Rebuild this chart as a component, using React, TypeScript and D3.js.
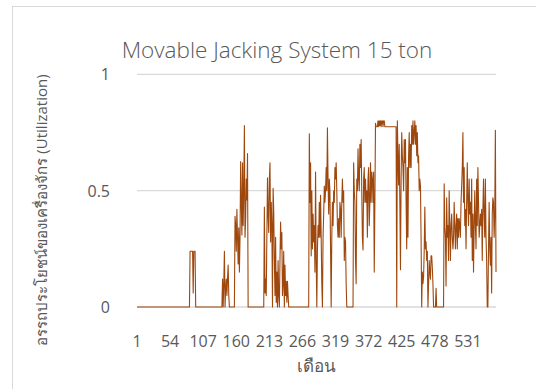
import React from "react";
import * as d3 from "d3";

const title = "Movable Jacking System 15 ton";
const yAxisTitle = "อรรถประโยชน์ของเครื่องจักร (Utilization)";
const xAxisTitle = "เดือน";
const yTicks = [0, 0.5, 1];
const xTickLabels = ["1", "54", "107", "160", "213", "266", "319", "372", "425", "478", "531"];

// Monthly utilization (576 months)
const utilization: number[] = [
  // 1-85
  0,0,0,0,0,0,0,0,0,0,0,0,0,0,0,0,0,0,0,0,
  0,0,0,0,0,0,0,0,0,0,0,0,0,0,0,0,0,0,0,0,
  0,0,0,0,0,0,0,0,0,0,0,0,0,0,0,0,0,0,0,0,
  0,0,0,0,0,0,0,0,0,0,0,0,0,0,0,0,0,0,0,0,
  0,0,0,0,0,
  // 86-94
  0.24,0.24,0.24,0.24,0.24,0.06,0.24,0.24,0.24,
  // 95-137
  0,0,0,0,0,0,0,0,0,0,0,0,0,0,0,0,0,0,0,0,
  0,0,0,0,0,0,0,0,0,0,0,0,0,0,0,0,0,0,0,0,
  0,0,0,
  // 138-179
  0.12,0,0.1,0.24,0,0.08,0.12,0.05,0.12,0.18,0.05,
  0,0,0,0,0,0,0,0,0,
  0.39,0.35,0.24,0.42,0.3,0.185,0.34,0.15,0.3,0.625,0.45,
  0.31,0.62,0.35,0.5,0.78,0.3,0.38,0.55,0.46,0.66,0,
  // 180-204
  0,0,0,0,0,0,0,0,0,0,0,0,0,0,0,0,0,0,0,0,
  0,0,0,0,0,
  // 205-244
  0.43,0.06,0.12,0.05,0.3,0.555,0.4,0.32,0.55,0.62,
  0.28,0.45,0.35,0,0.51,0.41,0.2,0.05,0.3,0.02,
  0.15,0,0.2,0.05,0,0.2,0.365,0.25,0.32,0.05,
  0.1,0.24,0,0.18,0.05,0.11,0.02,0.11,0.05,0,
  // 245-276
  0,0,0,0,0,0,0,0,0,0,0,0,0,0,0,0,0,0,0,0,
  0,0,0,0,0,0,0,0,0,0,0,0,
  // 277-336
  0.745,0.45,0.62,0.22,0.5,0.25,0.4,0.28,0.35,0.15,
  0.58,0.2,0,0.25,0.35,0.3,0.45,0.3,0.48,0.3,
  0.1,0,0.3,0.4,0.52,0.45,0.5,0.6,0.5,0.77,
  0.55,0.4,0.55,0.5,0.25,0,0.3,0.45,0.35,0.5,
  0.45,0.6,0.55,0.62,0.5,0.35,0.3,0.38,0.3,0.45,
  0.42,0.3,0.45,0.55,0.45,0.5,0.2,0.3,0.28,0.1,
  // 337-347
  0,0,0,0,0,0,0,0,0,0,0,
  // 348-382
  0.62,0.5,0.45,0.2,0.1,0.55,0.5,0.68,0.55,0.5,
  0.7,0.6,0.72,0.5,0.3,0.245,0.55,0.6,0.45,0.55,
  0.45,0.5,0.3,0.55,0.6,0.35,0.45,0.62,0.45,0.58,
  0.55,0.45,0.58,0.15,0.45,
  // 383-416
  0.79,0.775,0.775,0.775,0.8,0.775,0.8,0.78,0.8,0.775,
  0.8,0.8,0.775,0.8,0.8,0.775,0.775,0.775,0.775,0.775,
  0.775,0.775,0.775,0.775,0.775,0.775,0.775,0.775,0.775,0.775,
  0.775,0.775,0.775,0.775,
  // 417-455
  0,
  0.8,0.65,0.525,0.7,0.45,0.16,0.55,0.75,0.65,0.6,
  0.5,0.72,0.62,0.72,0.45,0.25,0.6,0.3,0.65,0.75,
  0.6,0.7,0.6,0.78,0.7,0.8,0.7,0.75,0.8,0.7,
  0.78,0.65,0.75,0.62,0.65,0.5,0.55,0.52,
  // 456-492
  0.3,0,0.15,0.1,0.13,0.24,0.43,0.25,0.28,0.2,
  0.24,0,0.1,0.2,0.15,0.12,0.22,0.22,0.17,0.1,
  0,0,0,0,0.08,0,
  0,0,0,0,0,0,0,0,0,0,0,
  // 493-576
  0.53,0.345,0.3,0.09,0.47,0.3,0.35,0.2,0.5,0.35,
  0.2,0.35,0.4,0.3,0.25,0.3,0.45,0.35,0.25,0.35,
  0.4,0.25,0.38,0.3,0.38,0.35,0.3,0.45,0.52,0.6,
  0.75,0.45,0.6,0.35,0.42,0.25,0.45,0.62,0.45,0.35,
  0.55,0.4,0.45,0.3,0.55,0.2,0.4,0.15,0.35,0.5,
  0.35,0.25,0.55,0.35,0.6,0.45,0.3,0.35,0.4,0.35,
  0.42,0.2,0.42,0.55,0.4,0.3,0.55,0.3,0.2,0,
  0,0.25,0.45,0.25,0.18,0.3,0.06,0.4,0.47,0.45,
  0.3,0.4,0.76,0.15,
];

const W = 536;
const H = 389;
const FONT = "'Open Sans', 'Noto Sans', 'DejaVu Sans', sans-serif";
const TEXT = "#595959";

export default function App() {
  const x = d3.scaleLinear().domain([0, utilization.length - 1]).range([137, 496]);
  const y = d3.scaleLinear().domain([0, 1]).range([307, 74.4]);
  const line = d3
    .line<number>()
    .x((_, i) => x(i))
    .y((d) => y(d));

  return (
    <svg
      width={W}
      height={H}
      style={{ position: "absolute", left: 0, top: 0, background: "#fff" }}
      fontFamily={FONT}
    >
      <rect x={0} y={0} width={W} height={H} fill="#fff" />
      <rect x={12.5} y={6.5} width={700} height={600} fill="none" stroke="#d9d9d9" strokeWidth={1} />
      <text x={277} y={58} textAnchor="middle" fontSize={22.5} fontWeight={300} fill={TEXT}>
        {title}
      </text>
      {yTicks.map((t) => (
        <g key={t}>
          <line x1={137} x2={496} y1={y(t)} y2={y(t)} stroke="#d9d9d9" strokeWidth={1.3} />
          <text x={110} y={y(t) + 6} textAnchor="end" fontSize={16} fill={TEXT}>
            {t}
          </text>
        </g>
      ))}
      <path d={line(utilization) || ""} fill="none" stroke="#9E480E" strokeWidth={1.1} strokeLinejoin="round" />
      {xTickLabels.map((lab) => (
        <text key={lab} x={x(+lab - 1)} y={347} textAnchor="middle" fontSize={16} fill={TEXT}>
          {lab}
        </text>
      ))}
      <text x={316} y={372} textAnchor="middle" fontSize={17} fill={TEXT}>
        {xAxisTitle}
      </text>
      <text
        transform={`translate(47,${210}) rotate(-90)`}
        textAnchor="middle"
        fontSize={15}
        fill={TEXT}
      >
        {yAxisTitle}
      </text>
    </svg>
  );
}
